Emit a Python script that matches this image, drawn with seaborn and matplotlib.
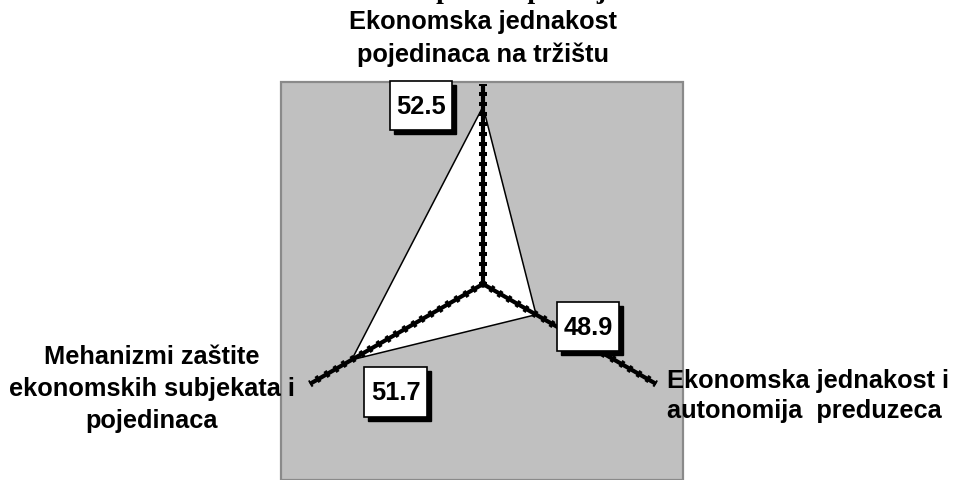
import numpy as np
import matplotlib
matplotlib.use("Agg")
import matplotlib.pyplot as plt
from matplotlib.patches import Rectangle
from matplotlib.markers import MarkerStyle
from matplotlib.path import Path
import seaborn as sns

# ---- data ----
categories = [
    "Ekonomska jednakost\npojedinaca na tržištu",
    "Ekonomska jednakost i\nautonomija  preduzeca",
    "Mehanizmi zaštite\nekonomskih subjekata i\npojedinaca",
]
values = [52.5, 48.9, 51.7]
value_labels = ["52.5", "48.9", "51.7"]
title_text = "Ekonomska prava i pozicija"

sns.set_theme(style="white")
plt.rcParams["font.family"] = ["Liberation Sans", "DejaVu Sans"]
plt.rcParams["text.color"] = "black"

W, H = 955, 481
fig = plt.figure(figsize=(W / 100, H / 100), dpi=100)
fig.patch.set_facecolor("white")

def fx(px):
    return px / W

def fy(py):
    return 1 - py / H

# gray plot area
fig.patches.append(Rectangle((fx(281), 0), fx(683) - fx(281), fy(83), transform=fig.transFigure,
                             facecolor="#C0C0C0", edgecolor="#8a8a8a", linewidth=1.6, zorder=-5))

# polar axes: center (483, 285), radius 200 px
cx, cy, R = 483, 285, 200
ax = fig.add_axes([fx(cx - R), fy(cy + R), 2 * R / W, 2 * R / H], projection="polar")
ax.set_zorder(1)
ax.set_facecolor("none")
ax.patch.set_alpha(0)
ax.set_theta_zero_location("N")
ax.set_theta_direction(-1)
rmin, rmax = 47.0, 53.2

n = len(values)
theta = np.arange(n) * 2 * np.pi / n
th_c = np.append(theta, theta[0])
v_c = np.append(values, values[0])

ax.fill(th_c, v_c, facecolor="white", edgecolor="none", zorder=2)
sns.lineplot(x=th_c, y=v_c, sort=False, estimator=None, color="black", linewidth=1.1,
             ax=ax, zorder=3)

# spokes with tick marks
ticks_r = np.linspace(rmin, rmax, 21)
for t in theta:
    ax.plot([t, t], [rmin, rmax], color="black", linewidth=3.0, zorder=4, solid_capstyle="butt")
    screen_ang = 90 - np.degrees(t)
    m = MarkerStyle("|").rotated(deg=screen_ang)
    ax.plot(np.full_like(ticks_r, t), ticks_r, linestyle="none", marker=m, markersize=5.5,
            markeredgewidth=2.6, color="black", zorder=4)

ax.set_ylim(rmin, rmax)
ax.grid(False)
ax.spines["polar"].set_visible(False)
ax.set_xticks([])
ax.set_yticks([])
ax.set_xlabel("")
ax.set_ylabel("")


def label_box(x0, y0, width, height, mutation_size):
    px = 0.26 * mutation_size
    py = 0.5 * mutation_size
    x0, y0 = x0 - px, y0 - py
    x1, y1 = x0 + width + 2 * px, y0 + height + 2 * py
    return Path([(x0, y0), (x1, y0), (x1, y1), (x0, y1), (x0, y0)], closed=True)


# value boxes with shadow
offsets = [(-62, 1), (52, -12), (44, -32)]
fs = 18.3
for t, v, lab, (dx, dy) in zip(theta, values, value_labels, offsets):
    ax.annotate(lab, xy=(t, v), xytext=(dx + 4, dy - 4), textcoords="offset pixels",
                ha="center", va="center", fontsize=fs, fontweight="bold", color="black",
                bbox=dict(boxstyle=label_box, facecolor="black", edgecolor="black"),
                zorder=5, annotation_clip=False)
    ax.annotate(lab, xy=(t, v), xytext=(dx, dy), textcoords="offset pixels",
                ha="center", va="center", fontsize=fs, fontweight="bold", color="black",
                bbox=dict(boxstyle=label_box, facecolor="white", edgecolor="black", linewidth=1.2),
                zorder=6, annotation_clip=False)

# category labels
fig.text(fx(483), fy(38.5), categories[0], ha="center", va="center", multialignment="center",
         fontsize=fs, fontweight="bold", linespacing=1.47, color="black", zorder=7)
fig.text(fx(667), fy(396), categories[1], ha="left", va="center", multialignment="left",
         fontsize=fs, fontweight="bold", linespacing=1.29, color="black", zorder=7)
fig.text(fx(152), fy(389), categories[2], ha="center", va="center", multialignment="center",
         fontsize=fs, fontweight="bold", linespacing=1.42, color="black", zorder=7)

# partially visible title above the figure
fig.text(fx(289), 1 + 2 / H, title_text, ha="left", va="baseline", color="black",
         fontsize=20, fontweight="bold", family=["Liberation Serif", "DejaVu Serif"])

fig.savefig("out.png", dpi=100, facecolor="white")
